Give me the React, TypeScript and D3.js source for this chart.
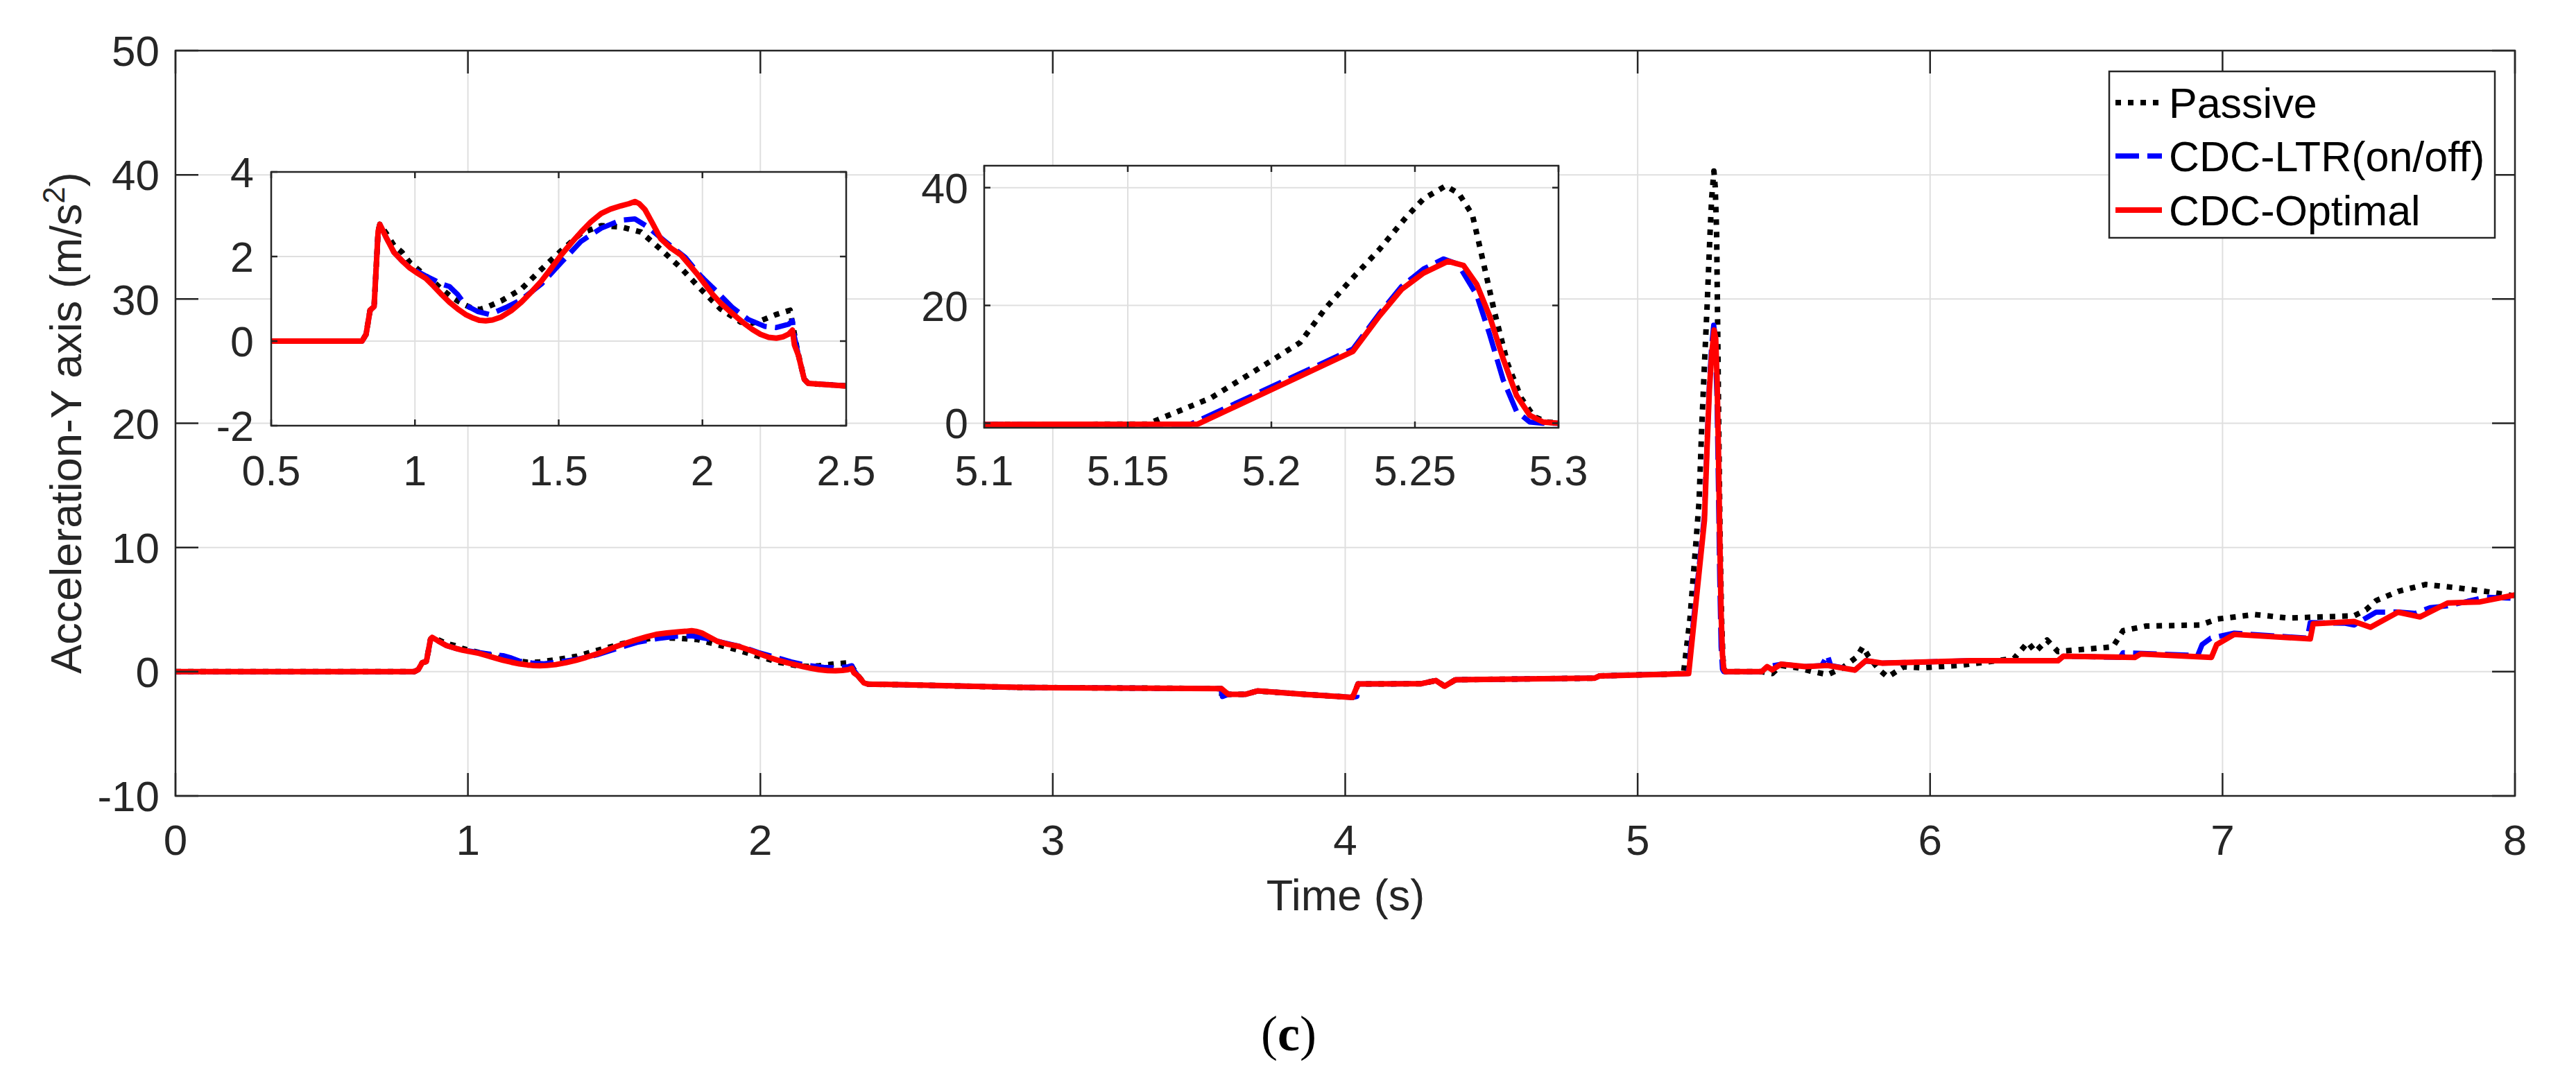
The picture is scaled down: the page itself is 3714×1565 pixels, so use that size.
import React from 'react';
import * as d3 from 'd3';

// ---------- DATA (time in s, acceleration in m/s^2) ----------
const passiveT = [0, 0.816, 0.83, 0.844, 0.858, 0.872, 0.878, 0.9, 0.927, 0.955, 0.982, 1.01, 1.038, 1.065, 1.093, 1.12, 1.149, 1.176, 1.204, 1.225, 1.246, 1.3, 1.37, 1.44, 1.509, 1.578, 1.648, 1.717, 1.786, 1.855, 1.925, 1.994, 2.063, 2.133, 2.17, 2.202, 2.257, 2.305, 2.315, 2.33, 2.354, 2.368, 2.5, 2.89, 3.575, 3.577, 3.58, 3.6, 3.66, 3.7, 3.86, 4.025, 4.044, 4.26, 4.31, 4.34, 4.377, 4.853, 4.87, 5.1, 5.1567, 5.179, 5.2006, 5.21, 5.219, 5.228, 5.2376, 5.2468, 5.253, 5.2607, 5.2653, 5.27, 5.273, 5.2776, 5.2823, 5.287, 5.2915, 5.296, 5.3, 5.424, 5.46, 5.49, 5.55, 5.6, 5.65, 5.7, 5.75, 5.77, 5.79, 5.827, 5.855, 5.91, 5.97, 6.1, 6.287, 6.334, 6.36, 6.4, 6.437, 6.625, 6.66, 6.737, 6.925, 6.98, 7.11, 7.225, 7.45, 7.49, 7.525, 7.6, 7.694, 7.807, 7.9, 8.0];
const passiveV = [0, 0, 0.16, 0.73, 0.82, 2.6, 2.76, 2.55, 2.26, 2.1, 1.86, 1.7, 1.54, 1.4, 1.23, 1.08, 0.95, 0.85, 0.76, 0.75, 0.79, 0.95, 1.23, 1.7, 2.14, 2.55, 2.73, 2.7, 2.58, 2.17, 1.73, 1.23, 0.76, 0.45, 0.42, 0.48, 0.63, 0.73, 0.35, -0.21, -0.9, -1.0, -1.06, -1.27, -1.36, -2.0, -1.4, -1.82, -1.82, -1.55, -1.82, -2.07, -0.99, -0.97, -0.71, -1.17, -0.65, -0.52, -0.34, -0.2, -0.15, 4.3, 10.8, 13.7, 19.6, 24.5, 29.5, 34.9, 38.1, 40.3, 39.0, 35.4, 29.1, 19.1, 10.1, 4.3, 1.1, 0.2, 0, 0, -0.15, 0.5, 0.3, 0.0, -0.24, 0.3, 1.2, 2.0, 1.2, 0.13, -0.43, 0.4, 0.32, 0.5, 1.06, 2.36, 1.6, 2.55, 1.62, 2.0, 3.3, 3.67, 3.76, 4.23, 4.6, 4.32, 4.5, 4.97, 5.72, 6.46, 7.02, 6.74, 6.46, 6.1];

const ltrT = [0, 0.816, 0.83, 0.844, 0.858, 0.872, 0.878, 0.9, 0.927, 0.955, 0.98, 1.038, 1.065, 1.093, 1.12, 1.149, 1.176, 1.218, 1.26, 1.315, 1.37, 1.44, 1.509, 1.578, 1.648, 1.717, 1.765, 1.81, 1.87, 1.94, 1.994, 2.05, 2.105, 2.16, 2.216, 2.257, 2.3, 2.313, 2.32, 2.334, 2.354, 2.368, 2.5, 2.89, 3.575, 3.58, 3.6, 3.66, 3.7, 3.86, 4.025, 4.04, 4.044, 4.26, 4.31, 4.34, 4.377, 4.853, 4.87, 5.1, 5.172, 5.2284, 5.2376, 5.2453, 5.253, 5.26, 5.265, 5.2715, 5.276, 5.2807, 5.2854, 5.29, 5.2946, 5.3, 5.424, 5.443, 5.49, 5.574, 5.63, 5.649, 5.66, 5.743, 5.78, 5.837, 6.137, 6.437, 6.456, 6.65, 6.66, 6.915, 6.93, 6.96, 7.04, 7.29, 7.3, 7.42, 7.45, 7.525, 7.6, 7.66, 7.71, 7.77, 7.9, 8.0];
const ltrV = [0, 0, 0.16, 0.73, 0.82, 2.6, 2.76, 2.45, 2.1, 1.9, 1.75, 1.54, 1.45, 1.35, 1.29, 1.1, 0.85, 0.7, 0.63, 0.79, 0.98, 1.35, 1.86, 2.36, 2.67, 2.86, 2.89, 2.7, 2.36, 1.98, 1.54, 1.17, 0.79, 0.51, 0.35, 0.32, 0.4, 0.48, 0.1, -0.34, -0.9, -1.0, -1.06, -1.27, -1.36, -2.0, -1.82, -1.82, -1.55, -1.82, -2.07, -2.0, -0.99, -0.97, -0.71, -1.17, -0.65, -0.52, -0.34, -0.2, -0.15, 12.6, 18.6, 23.2, 26.2, 27.9, 27.0, 21.8, 15.1, 7.4, 2.0, 0.2, 0, 0, 0, 0.41, 0.6, 0.41, 0.5, 1.34, 0.5, 0.13, 0.88, 0.69, 0.88, 0.88, 1.25, 1.15, 1.53, 1.3, 2.18, 2.7, 3.1, 2.7, 3.95, 3.9, 3.76, 4.79, 4.8, 4.7, 5.16, 5.3, 6.0, 5.9];

const optT = [0, 0.816, 0.83, 0.844, 0.858, 0.872, 0.878, 0.9, 0.927, 0.955, 0.982, 1.01, 1.038, 1.065, 1.093, 1.12, 1.149, 1.176, 1.204, 1.225, 1.246, 1.27, 1.3, 1.335, 1.37, 1.405, 1.44, 1.475, 1.509, 1.545, 1.578, 1.612, 1.648, 1.68, 1.717, 1.745, 1.765, 1.78, 1.8, 1.825, 1.855, 1.89, 1.925, 1.955, 1.98, 2.008, 2.036, 2.063, 2.091, 2.12, 2.147, 2.175, 2.202, 2.23, 2.257, 2.28, 2.299, 2.313, 2.32, 2.334, 2.354, 2.368, 2.5, 2.89, 3.577, 3.6, 3.66, 3.7, 3.86, 4.025, 4.044, 4.26, 4.31, 4.34, 4.377, 4.853, 4.87, 5.1, 5.1744, 5.2284, 5.2376, 5.2453, 5.253, 5.2615, 5.2669, 5.2715, 5.276, 5.2807, 5.2854, 5.29, 5.2946, 5.3, 5.424, 5.443, 5.46, 5.49, 5.574, 5.649, 5.743, 5.78, 5.837, 6.137, 6.437, 6.456, 6.7, 6.72, 6.962, 6.98, 7.04, 7.3, 7.31, 7.45, 7.506, 7.6, 7.675, 7.77, 7.88, 8.0];
const optV = [0, 0, 0.16, 0.73, 0.82, 2.6, 2.76, 2.45, 2.1, 1.9, 1.73, 1.6, 1.48, 1.3, 1.1, 0.92, 0.76, 0.63, 0.54, 0.49, 0.48, 0.5, 0.57, 0.72, 0.92, 1.16, 1.42, 1.73, 2.04, 2.33, 2.58, 2.82, 3.02, 3.12, 3.2, 3.25, 3.3, 3.25, 3.11, 2.8, 2.42, 2.2, 2.04, 1.8, 1.6, 1.35, 1.1, 0.9, 0.73, 0.56, 0.41, 0.27, 0.16, 0.09, 0.07, 0.1, 0.16, 0.26, -0.09, -0.34, -0.9, -1.0, -1.06, -1.27, -1.36, -1.82, -1.82, -1.55, -1.82, -2.07, -0.99, -0.97, -0.71, -1.17, -0.65, -0.52, -0.34, -0.2, -0.15, 12.2, 18.2, 22.7, 25.5, 27.5, 26.8, 23.6, 18.2, 11.0, 4.7, 1.35, 0.2, 0, 0, 0.41, 0.15, 0.6, 0.41, 0.5, 0.13, 0.88, 0.69, 0.88, 0.88, 1.25, 1.15, 1.43, 1.15, 2.18, 3.0, 2.64, 3.85, 4.04, 3.58, 4.79, 4.41, 5.53, 5.62, 6.18];

const seriesNames = ['Passive', 'CDC-LTR(on/off)', 'CDC-Optimal'];

const mainXTicks = [0, 1, 2, 3, 4, 5, 6, 7, 8];
const mainYTicks = [-10, 0, 10, 20, 30, 40, 50];
const inset1XTicks = [0.5, 1, 1.5, 2, 2.5];
const inset1YTicks = [-2, 0, 2, 4];
const inset2XTicks = [5.1, 5.15, 5.2, 5.25, 5.3];
const inset2YTicks = [0, 20, 40];

// ---------- STYLE ----------
const FONT = '"Liberation Sans", Arial, Helvetica, sans-serif';
const AX = '#262626';
const GRID = '#dfdfdf';
const styles = [
  { color: '#000000', width: 8, dash: '8 10', cap: 'butt' },
  { color: '#0000ff', width: 7.5, dash: '34 12', cap: 'butt' },
  { color: '#ff0000', width: 8, dash: null, cap: 'round' },
];

const zip = (t: number[], v: number[]) => t.map((d, i) => [d, v[i]] as [number, number]);
const series = [zip(passiveT, passiveV), zip(ltrT, ltrV), zip(optT, optV)];

type PanelProps = {
  id: string;
  box: { l: number; r: number; t: number; b: number };
  xDomain: [number, number];
  yDomain: [number, number];
  xTicks: number[];
  yTicks: number[];
  tickLen: number;
  fontSize: number;
  xLabelBaseline: number;
  yLabelGap: number;
};

function Panel(p: PanelProps) {
  const { box } = p;
  const x = d3.scaleLinear().domain(p.xDomain).range([box.l, box.r]);
  const y = d3.scaleLinear().domain(p.yDomain).range([box.b, box.t]);
  const line = d3
    .line<[number, number]>()
    .x((d) => x(d[0]))
    .y((d) => y(d[1]));
  return (
    <g>
      <defs>
        <clipPath id={p.id}>
          <rect x={box.l} y={box.t} width={box.r - box.l} height={box.b - box.t} />
        </clipPath>
      </defs>
      <rect x={box.l} y={box.t} width={box.r - box.l} height={box.b - box.t} fill="#ffffff" />
      {p.xTicks.map((t) => (
        <line key={'gx' + t} x1={x(t)} x2={x(t)} y1={box.t} y2={box.b} stroke={GRID} strokeWidth={2} />
      ))}
      {p.yTicks.map((t) => (
        <line key={'gy' + t} x1={box.l} x2={box.r} y1={y(t)} y2={y(t)} stroke={GRID} strokeWidth={2} />
      ))}
      <g clipPath={`url(#${p.id})`}>
        {series.map((s, i) => (
          <path
            key={i}
            d={line(s) || ''}
            fill="none"
            stroke={styles[i].color}
            strokeWidth={styles[i].width}
            strokeDasharray={styles[i].dash || undefined}
            strokeLinecap={styles[i].cap as any}
            strokeLinejoin="round"
          />
        ))}
      </g>
      {p.xTicks.map((t) => (
        <g key={'tx' + t}>
          <line x1={x(t)} x2={x(t)} y1={box.b} y2={box.b - p.tickLen} stroke={AX} strokeWidth={2.5} />
          <line x1={x(t)} x2={x(t)} y1={box.t} y2={box.t + p.tickLen} stroke={AX} strokeWidth={2.5} />
          <text x={x(t)} y={p.xLabelBaseline} textAnchor="middle" fontSize={p.fontSize} fill={AX} fontFamily={FONT}>
            {String(t)}
          </text>
        </g>
      ))}
      {p.yTicks.map((t) => (
        <g key={'ty' + t}>
          <line x1={box.l} x2={box.l + p.tickLen} y1={y(t)} y2={y(t)} stroke={AX} strokeWidth={2.5} />
          <line x1={box.r} x2={box.r - p.tickLen} y1={y(t)} y2={y(t)} stroke={AX} strokeWidth={2.5} />
          <text
            x={box.l - p.yLabelGap}
            y={y(t)}
            dy="0.36em"
            textAnchor="end"
            fontSize={p.fontSize}
            fill={AX}
            fontFamily={FONT}
          >
            {String(t)}
          </text>
        </g>
      ))}
      <rect
        x={box.l}
        y={box.t}
        width={box.r - box.l}
        height={box.b - box.t}
        fill="none"
        stroke={AX}
        strokeWidth={2.5}
      />
    </g>
  );
}

function Legend() {
  const bx = 3041, by = 103, bw = 556, bh = 240;
  const rows = [148, 225, 303];
  return (
    <g>
      <rect x={bx} y={by} width={bw} height={bh} fill="#ffffff" stroke={AX} strokeWidth={2.5} />
      {seriesNames.map((n, i) => (
        <g key={n}>
          <line
            x1={3050}
            x2={3117}
            y1={rows[i]}
            y2={rows[i]}
            stroke={styles[i].color}
            strokeWidth={styles[i].width}
            strokeDasharray={styles[i].dash || undefined}
          />
          <text x={3127} y={rows[i]} dy="0.36em" fontSize={61} fontFamily={FONT} fill="#000000">
            {n}
          </text>
        </g>
      ))}
    </g>
  );
}

export default function App() {
  const W = 3714, H = 1565;
  return (
    <svg
      width={W}
      height={H}
      viewBox={`0 0 ${W} ${H}`}
      style={{ position: 'absolute', left: 0, top: 0, background: '#ffffff' }}
    >
      <rect x={0} y={0} width={W} height={H} fill="#ffffff" />
      <Panel
        id="clipMain"
        box={{ l: 253, r: 3626, t: 73, b: 1148 }}
        xDomain={[0, 8]}
        yDomain={[-10, 50]}
        xTicks={mainXTicks}
        yTicks={mainYTicks}
        tickLen={33}
        fontSize={62}
        xLabelBaseline={1233}
        yLabelGap={23}
      />
      <Panel
        id="clipIn1"
        box={{ l: 391, r: 1220, t: 248, b: 614 }}
        xDomain={[0.5, 2.5]}
        yDomain={[-2, 4]}
        xTicks={inset1XTicks}
        yTicks={inset1YTicks}
        tickLen={9}
        fontSize={61}
        xLabelBaseline={700}
        yLabelGap={25}
      />
      <Panel
        id="clipIn2"
        box={{ l: 1419, r: 2247, t: 239, b: 617 }}
        xDomain={[5.1, 5.3]}
        yDomain={[-0.77, 43.73]}
        xTicks={inset2XTicks}
        yTicks={inset2YTicks}
        tickLen={9}
        fontSize={61}
        xLabelBaseline={700}
        yLabelGap={23}
      />
      <Legend />
      <text x={1940} y={1313} textAnchor="middle" fontSize={63} fill={AX} fontFamily={FONT}>
        Time (s)
      </text>
      <text
        transform="translate(117,610) rotate(-90)"
        textAnchor="middle"
        fontSize={63}
        fill={AX}
        fontFamily={FONT}
      >
        Acceleration-Y axis (m/s
        <tspan baselineShift="super" fontSize={44}>2</tspan>)
      </text>
      <text
        x={1858}
        y={1515}
        textAnchor="middle"
        fontSize={72}
        fill="#000000"
        fontFamily='"Liberation Serif", "Times New Roman", serif'
      >
        (<tspan fontWeight="bold">c</tspan>)
      </text>
    </svg>
  );
}
